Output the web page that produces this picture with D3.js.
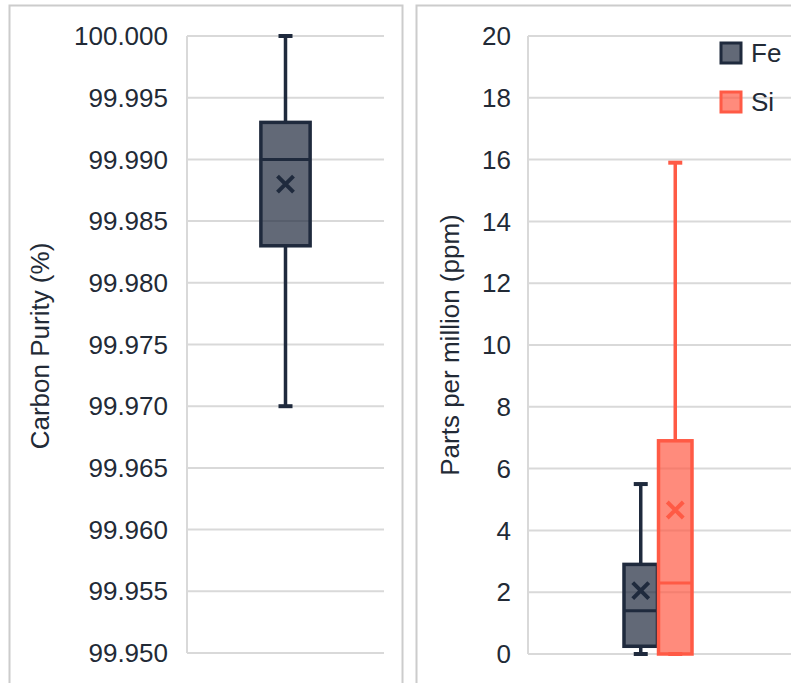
<!DOCTYPE html>
<html>
<head>
<meta charset="utf-8">
<script src="https://cdn.jsdelivr.net/npm/d3@7"></script>
<style>
  html, body { margin: 0; padding: 0; background: #ffffff; }
  svg { display: block; }
  text { font-family: "Liberation Sans", Arial, sans-serif; fill: #222a36; }
</style>
</head>
<body>
<svg id="chart" width="791" height="683"></svg>
<script>
// ---- data ----
const purityCategories = ["Carbon"];
const purityMin    = [99.970];
const purityQ1     = [99.983];
const purityMedian = [99.990];
const purityQ3     = [99.993];
const purityMax    = [100.000];
const purityMean   = [99.988];
const purityTicks  = [100.000, 99.995, 99.990, 99.985, 99.980, 99.975, 99.970, 99.965, 99.960, 99.955, 99.950];

const elements  = ["Fe", "Si"];
const ppmMin    = [0, 0];
const ppmQ1     = [0.25, 0];
const ppmMedian = [1.4, 2.3];
const ppmQ3     = [2.9, 6.9];
const ppmMax    = [5.5, 15.9];
const ppmMean   = [2.05, 4.66];
const ppmTicks  = [0, 2, 4, 6, 8, 10, 12, 14, 16, 18, 20];

const strokeColor = { Carbon: "#1f2a3d", Fe: "#1f2a3d", Si: "#ff5a45" };
const gridColor = "#d9d9d9";
const fontSize = 26;

const svg = d3.select("#chart");

// panel frames
svg.append("rect").attr("x", 9.5).attr("y", 5.5).attr("width", 393).attr("height", 700)
  .attr("fill", "none").attr("stroke", "#cccccc").attr("stroke-width", 2);
svg.append("rect").attr("x", 416.5).attr("y", 5.5).attr("width", 400).attr("height", 700)
  .attr("fill", "none").attr("stroke", "#cccccc").attr("stroke-width", 2);

function drawBox(g, s, cx, w, capW) {
  const c = strokeColor[s.key];
  // whiskers
  g.append("line").attr("x1", cx).attr("x2", cx).attr("y1", s.y(s.max)).attr("y2", s.y(s.q3))
    .attr("stroke", c).attr("stroke-width", 3.5);
  g.append("line").attr("x1", cx).attr("x2", cx).attr("y1", s.y(s.q1)).attr("y2", s.y(s.min))
    .attr("stroke", c).attr("stroke-width", 3.5);
  [s.max, s.min].forEach(v => {
    g.append("line").attr("x1", cx - capW / 2).attr("x2", cx + capW / 2)
      .attr("y1", s.y(v)).attr("y2", s.y(v))
      .attr("stroke", c).attr("stroke-width", 4);
  });
  // box
  g.append("rect").attr("x", cx - w / 2).attr("y", s.y(s.q3))
    .attr("width", w).attr("height", s.y(s.q1) - s.y(s.q3))
    .attr("fill", c).attr("fill-opacity", 0.7)
    .attr("stroke", c).attr("stroke-width", 3.5);
  // median
  g.append("line").attr("x1", cx - w / 2).attr("x2", cx + w / 2)
    .attr("y1", s.y(s.median)).attr("y2", s.y(s.median))
    .attr("stroke", c).attr("stroke-width", 3);
  // mean marker
  const my = s.y(s.mean), r = 8;
  g.append("path")
    .attr("d", `M${cx - r},${my - r}L${cx + r},${my + r}M${cx - r},${my + r}L${cx + r},${my - r}`)
    .attr("stroke", c).attr("stroke-width", 4).attr("fill", "none");
}

function drawGridAndAxis(y, x0, x1, ticks, fmt, labelX) {
  const g = svg.append("g");
  g.selectAll("line.grid").data(ticks).join("line")
    .attr("x1", x0).attr("x2", x1)
    .attr("y1", d => y(d)).attr("y2", d => y(d))
    .attr("stroke", gridColor).attr("stroke-width", 2);
  g.append("line").attr("x1", x0).attr("x2", x0)
    .attr("y1", y.range()[1]).attr("y2", y.range()[0])
    .attr("stroke", gridColor).attr("stroke-width", 2);
  g.selectAll("text.tick").data(ticks).join("text")
    .attr("x", labelX).attr("y", d => y(d))
    .attr("dy", "0.35em").attr("text-anchor", "end")
    .attr("font-size", fontSize)
    .text(fmt);
}

// ---- left panel: carbon purity ----
const yL = d3.scaleLinear().domain([99.95, 100]).range([653, 36]);
const xL = d3.scaleBand().domain(purityCategories).range([187, 384]);
drawGridAndAxis(yL, 187, 384, purityTicks, d3.format(".3f"), 168);

const gL = svg.append("g");
purityCategories.forEach((k, i) => {
  const cx = xL(k) + xL.bandwidth() / 2;
  drawBox(gL, {
    key: k, y: yL, min: purityMin[i], q1: purityQ1[i], median: purityMedian[i],
    q3: purityQ3[i], max: purityMax[i], mean: purityMean[i]
  }, cx, xL.bandwidth() * 0.25, 14);
});

svg.append("text")
  .attr("transform", `translate(49,346) rotate(-90)`)
  .attr("text-anchor", "middle").attr("font-size", fontSize)
  .text("Carbon Purity (%)");

// ---- right panel: impurities in ppm ----
const yR = d3.scaleLinear().domain([0, 20]).range([654, 36]);
const xOuter = d3.scaleBand().domain(["ppm"]).range([528, 788]);
const groupCenter = xOuter("ppm") + xOuter.bandwidth() / 2;
const xInner = d3.scaleBand().domain(elements)
  .range([groupCenter - 34, groupCenter + 34]).paddingInner(0.03);
drawGridAndAxis(yR, 528, 791, ppmTicks, d3.format("d"), 511);

const gR = svg.append("g");
elements.forEach((k, i) => {
  const cx = xInner(k) + xInner.bandwidth() / 2;
  drawBox(gR, {
    key: k, y: yR, min: ppmMin[i], q1: ppmQ1[i], median: ppmMedian[i],
    q3: ppmQ3[i], max: ppmMax[i], mean: ppmMean[i]
  }, cx, xInner.bandwidth(), 14);
});

svg.append("text")
  .attr("transform", `translate(459,345) rotate(-90)`)
  .attr("text-anchor", "middle").attr("font-size", fontSize)
  .text("Parts per million (ppm)");

// legend
const legend = svg.append("g").attr("transform", "translate(721,43)");
elements.forEach((k, i) => {
  const row = legend.append("g").attr("transform", `translate(0,${i * 49})`);
  row.append("rect").attr("width", 20).attr("height", 20)
    .attr("fill", strokeColor[k]).attr("fill-opacity", 0.7)
    .attr("stroke", strokeColor[k]).attr("stroke-width", 3);
  row.append("text").attr("x", 30).attr("y", 10).attr("dy", "0.35em")
    .attr("font-size", fontSize).text(k);
});
</script>
</body>
</html>
